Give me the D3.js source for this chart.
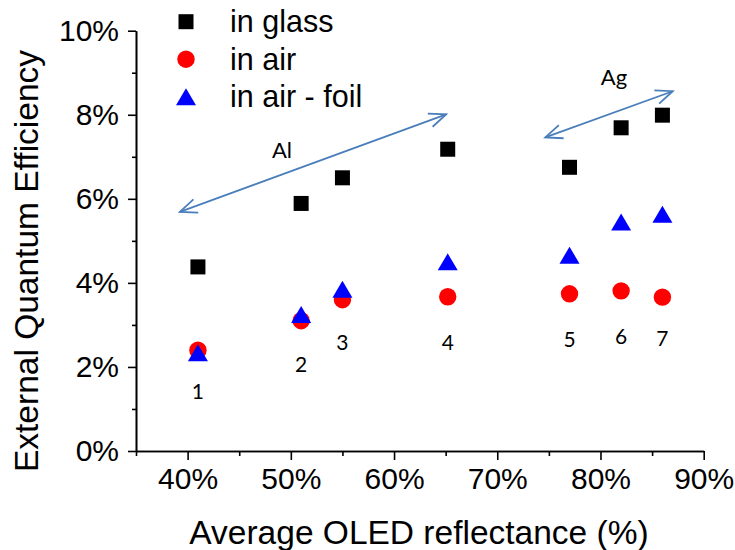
<!DOCTYPE html>
<html>
<head>
<meta charset="utf-8">
<script src="https://cdn.jsdelivr.net/npm/d3@7/dist/d3.min.js"></script>
<style>
  body { margin: 0; background: #fff; }
  svg { font-family: "Liberation Sans", Arial, sans-serif; }
</style>
</head>
<body>
<div id="chart"></div>
<script>

// data (reflectance %, EQE %)
let reflectance = [41, 51, 55, 65.2, 77, 82, 86];
let eqeGlass = [4.38, 5.89, 6.50, 7.18, 6.75, 7.69, 7.99];
let eqeAir = [2.40, 3.10, 3.60, 3.67, 3.74, 3.81, 3.66];
let eqeFoil = [2.34, 3.25, 3.85, 4.50, 4.66, 5.45, 5.63];
let sampleLabels = ["1", "2", "3", "4", "5", "6", "7"];
let sampleLabelY = [1.24, 1.87, 2.40, 2.40, 2.48, 2.54, 2.51];

let xTicks = [40, 50, 60, 70, 80, 90], xMinor = [35, 45, 55, 65, 75, 85];
let yTicks = [0, 2, 4, 6, 8, 10], yMinor = [1, 3, 5, 7, 9];

let seriesNames = ["in glass", "in air", "in air - foil"];

// arrows: [x1, y1, x2, y2] in data units
let arrowAl = [39.25, 5.69, 65.05, 8.01];
let arrowAg = [74.65, 7.46, 87.0, 8.56];

let svgWidth = 735, svgHeight = 550;
let x = d3.scaleLinear().domain([35, 90]).range([136, 703.7]);
let y = d3.scaleLinear().domain([0, 10]).range([451, 30.7]);

let svg = d3.select("#chart").append("svg")
    .attr("width", svgWidth)
    .attr("height", svgHeight);

// axes
svg.append("g")
    .attr("transform", "translate(0," + y(0) + ")")
    .call(d3.axisBottom(x).tickValues(xTicks).tickFormat(d => d + "%")
        .tickSize(9).tickSizeOuter(0).tickPadding(8));
svg.append("g")
    .attr("transform", "translate(0," + y(0) + ")")
    .call(d3.axisBottom(x).tickValues(xMinor).tickFormat("").tickSize(5).tickSizeOuter(0));

svg.append("g")
    .attr("transform", "translate(" + x(35) + ",0)")
    .call(d3.axisLeft(y).tickValues(yTicks).tickFormat(d => d + "%")
        .tickSize(8).tickSizeOuter(0).tickPadding(9));
svg.append("g")
    .attr("transform", "translate(" + x(35) + ",0)")
    .call(d3.axisLeft(y).tickValues(yMinor).tickFormat("").tickSize(4).tickSizeOuter(0));

svg.selectAll(".domain, .tick line")
    .attr("stroke", "#000")
    .attr("stroke-width", 1.6);
svg.selectAll(".tick text")
    .attr("font-family", "Liberation Sans, Arial, sans-serif")
    .attr("font-size", "30px")
    .attr("fill", "#000");

// axis titles
svg.append("text")
    .attr("x", 419)
    .attr("y", 544)
    .attr("text-anchor", "middle")
    .attr("font-size", "33.5px")
    .text("Average OLED reflectance (%)");

svg.append("text")
    .attr("transform", "translate(38,261) rotate(-90)")
    .attr("text-anchor", "middle")
    .attr("font-size", "33.5px")
    .text("External Quantum Efficiency");

// open arrow heads
let defs = svg.append("defs");
defs.append("marker")
    .attr("id", "vhead")
    .attr("markerUnits", "userSpaceOnUse")
    .attr("viewBox", "-20 -10 22 20")
    .attr("refX", 0).attr("refY", 0)
    .attr("markerWidth", 22).attr("markerHeight", 20)
    .attr("orient", "auto-start-reverse")
    .append("path")
    .attr("d", "M-17,-7 L0,0 L-17,7")
    .attr("fill", "none")
    .attr("stroke", "#4a7ebb")
    .attr("stroke-width", 1.8);

[arrowAl, arrowAg].forEach(function(a) {
    svg.append("line")
        .attr("x1", x(a[0])).attr("y1", y(a[1]))
        .attr("x2", x(a[2])).attr("y2", y(a[3]))
        .attr("stroke", "#4a7ebb")
        .attr("stroke-width", 1.8)
        .attr("marker-start", "url(#vhead)")
        .attr("marker-end", "url(#vhead)");
});

svg.append("text")
    .attr("x", 282).attr("y", 158)
    .attr("text-anchor", "middle")
    .attr("font-family", "Lato, sans-serif")
    .attr("font-size", "22px")
    .text("Al");
svg.append("text")
    .attr("x", 614).attr("y", 85)
    .attr("text-anchor", "middle")
    .attr("font-family", "Lato, sans-serif")
    .attr("font-size", "22px")
    .text("Ag");

// marker shapes
function square(g) {
    g.append("rect").attr("x", -7.5).attr("y", -7.5).attr("width", 15).attr("height", 15).attr("fill", "#000");
}
function circle(g) {
    g.append("circle").attr("r", 8.7).attr("fill", "#ff0000");
}
function triangle(g) {
    g.append("path").attr("d", "M0,-8.5 L10,8.5 L-10,8.5 Z").attr("fill", "#0000ff");
}

let layers = [
    {vals: eqeGlass, draw: square},
    {vals: eqeAir, draw: circle},
    {vals: eqeFoil, draw: triangle}
];

layers.forEach(function(s) {
    svg.append("g").selectAll("g")
        .data(reflectance)
        .enter()
        .append("g")
        .attr("transform", (d, i) => "translate(" + x(d) + "," + y(s.vals[i]) + ")")
        .each(function() { s.draw(d3.select(this)); });
});

// sample numbers
svg.append("g").selectAll("text")
    .data(sampleLabels)
    .enter()
    .append("text")
    .attr("x", (d, i) => x(reflectance[i]))
    .attr("y", (d, i) => y(sampleLabelY[i]))
    .attr("text-anchor", "middle")
    .attr("font-family", "Lato, sans-serif")
    .attr("font-size", "21px")
    .text(d => d);

// legend
let legend = svg.append("g").selectAll("g")
    .data(seriesNames)
    .enter()
    .append("g")
    .attr("transform", (d, i) => "translate(186," + (21.7 + i * 37.5) + ")");
legend.each(function(d, i) { layers[i].draw(d3.select(this)); });
legend.append("text")
    .attr("x", 44)
    .attr("y", 10.5)
    .attr("font-size", "30.5px")
    .text(d => d);

</script>
</body>
</html>
